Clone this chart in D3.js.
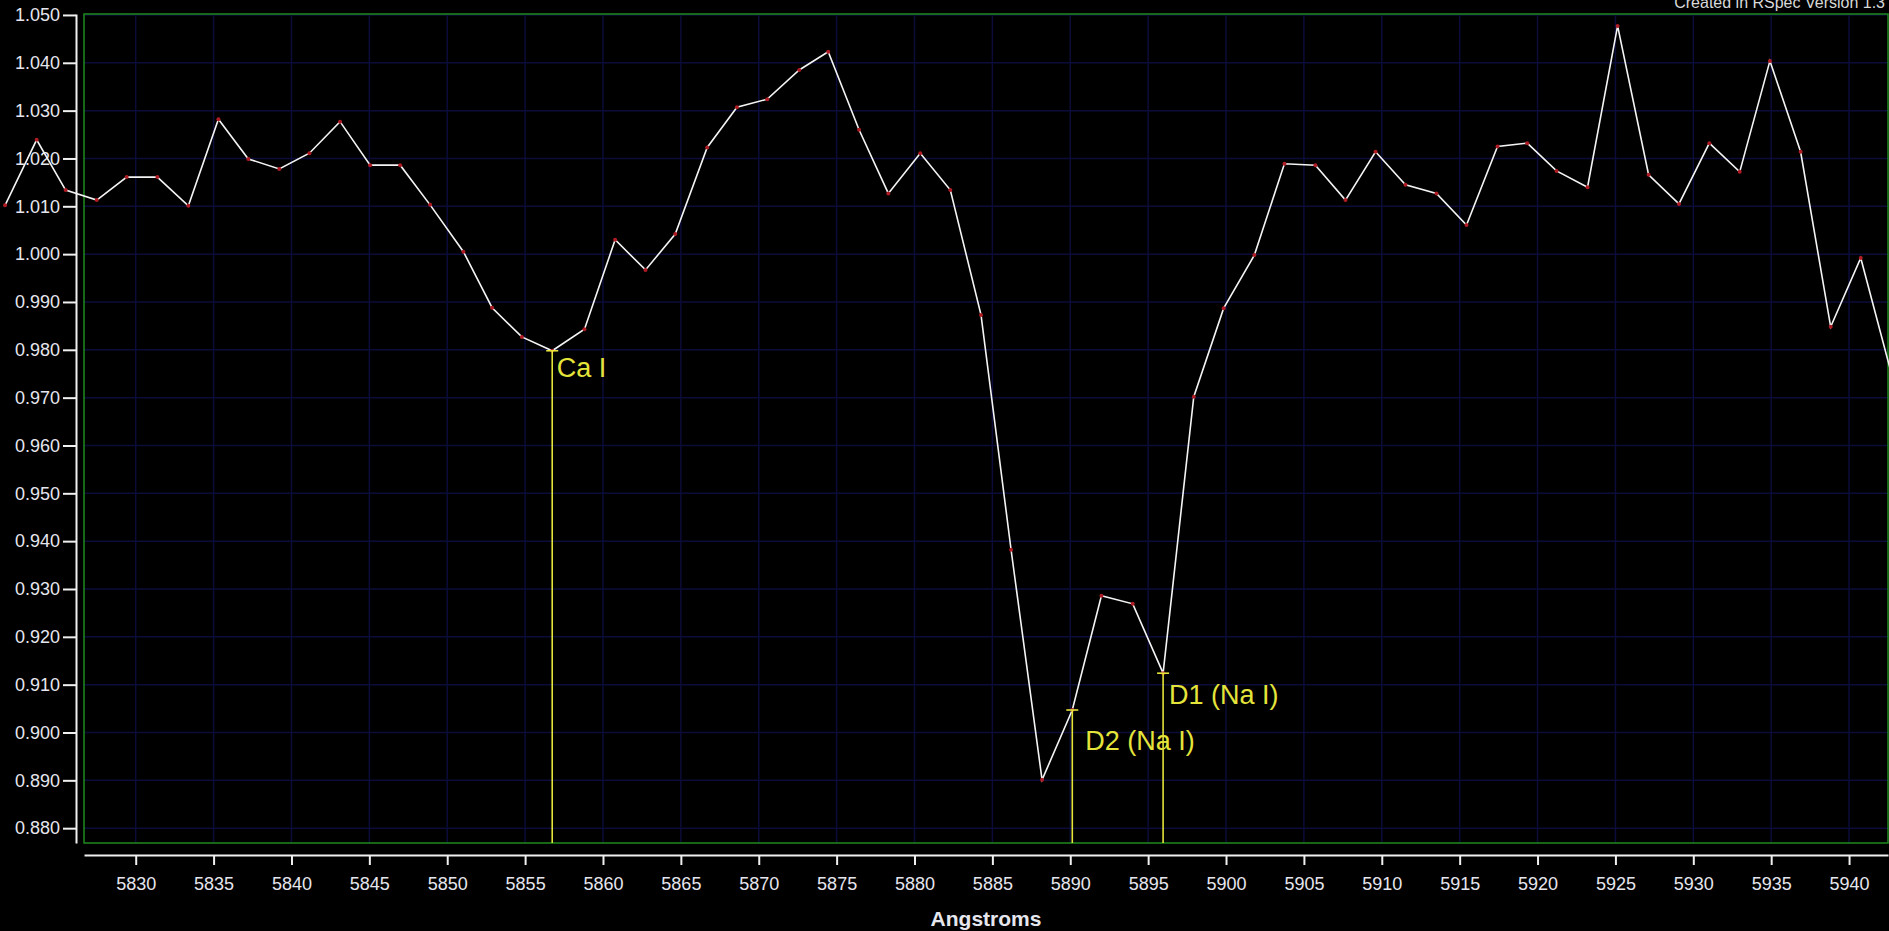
<!DOCTYPE html>
<html>
<head>
<meta charset="utf-8">
<script src="https://cdn.jsdelivr.net/npm/d3@7"></script>
<style>
  html, body { margin: 0; padding: 0; background: #000; }
  svg { display: block; }
  .tick text { font-family: "Liberation Sans", Arial, sans-serif; }
</style>
</head>
<body>
<div id="chart"></div>
<script>
// spectrum samples
let wavelengths = [
  5821.61, 5823.64, 5825.50, 5827.50, 5829.42, 5831.39, 5833.38, 5835.31, 5837.23, 5839.22,
  5841.15, 5843.12, 5845.05, 5846.98, 5848.90, 5851.04, 5852.88, 5854.79, 5856.74, 5858.81,
  5860.78, 5862.73, 5864.64, 5866.69, 5868.60, 5870.55, 5872.60, 5874.46, 5876.44, 5878.32,
  5880.37, 5882.30, 5884.27, 5886.20, 5888.19, 5890.13, 5892.00, 5894.01, 5895.96, 5897.93,
  5899.85, 5901.82, 5903.75, 5905.74, 5907.67, 5909.60, 5911.52, 5913.51, 5915.44, 5917.43,
  5919.34, 5921.22, 5923.21, 5925.14, 5927.13, 5929.08, 5931.03, 5932.98, 5934.92, 5936.89,
  5938.82, 5940.75, 5942.68
];
let intensity = [
  1.0102, 1.0239, 1.0134, 1.0113, 1.0161, 1.0161, 1.0101, 1.0282, 1.0199, 1.0178,
  1.0211, 1.0277, 1.0186, 1.0186, 1.0103, 1.0005, 0.9888, 0.9827, 0.9798, 0.9843,
  1.0030, 0.9967, 1.0042, 1.0223, 1.0307, 1.0324, 1.0385, 1.0423, 1.0260, 1.0127,
  1.0211, 1.0134, 0.9873, 0.9382, 0.8901, 0.9047, 0.9286, 0.9269, 0.9124, 0.9702,
  0.9887, 0.9998, 1.0189, 1.0186, 1.0113, 1.0214, 1.0145, 1.0127, 1.0061, 1.0225,
  1.0232, 1.0174, 1.0140, 1.0477, 1.0166, 1.0105, 1.0232, 1.0172, 1.0404, 1.0214,
  0.9848, 0.9992, 0.9755
];

let lineNames = ["Ca I", "D2 (Na I)", "D1 (Na I)"];
let lineWavelengths = [5856.74, 5890.13, 5895.96];
let lineIntensity = [0.9798, 0.9047, 0.9124];

let xTicks = [5830, 5835, 5840, 5845, 5850, 5855, 5860, 5865, 5870, 5875, 5880, 5885,
  5890, 5895, 5900, 5905, 5910, 5915, 5920, 5925, 5930, 5935, 5940];
let yTicks = [0.88, 0.89, 0.90, 0.91, 0.92, 0.93, 0.94, 0.95, 0.96, 0.97, 0.98, 0.99,
  1.00, 1.01, 1.02, 1.03, 1.04, 1.05];

let xTitle = "Angstroms";
let credit = "Created in RSpec Version 1.3";

// layout
let W = 1889, H = 931;
let plot = { left: 84, right: 1888, top: 14, bottom: 843 };
// label offsets from the marked point (dx, baseline dy)
let labelOffsets = [[4.5, 26], [13, 40], [6, 31]];

let yellow = "#e4e43a";
let gridColor = "#0c0c3a";

let svg = d3.select("#chart")
  .append("svg")
  .attr("width", W)
  .attr("height", H)
  .style("background", "#000");

let x = d3.scaleLinear().domain([5826.68, 5942.5]).range([plot.left, plot.right]);
let y = d3.scaleLinear().domain([0.8769, 1.0502]).range([plot.bottom, plot.top]);

// grid
svg.append("g")
  .selectAll("line")
  .data(xTicks)
  .enter()
  .append("line")
  .attr("x1", d => x(d)).attr("x2", d => x(d))
  .attr("y1", plot.top).attr("y2", plot.bottom)
  .attr("stroke", gridColor)
  .attr("stroke-width", 1.5);

svg.append("g")
  .selectAll("line")
  .data(yTicks)
  .enter()
  .append("line")
  .attr("x1", plot.left).attr("x2", plot.right)
  .attr("y1", d => y(d)).attr("y2", d => y(d))
  .attr("stroke", gridColor)
  .attr("stroke-width", 1.5);

// green frame
svg.append("rect")
  .attr("x", plot.left)
  .attr("y", plot.top)
  .attr("width", plot.right - plot.left)
  .attr("height", plot.bottom - plot.top)
  .attr("fill", "none")
  .attr("stroke", "#1e8a1e")
  .attr("stroke-width", 1.5);

// axes
let yAxis = svg.append("g")
  .attr("transform", "translate(76,0)")
  .call(d3.axisLeft(y).tickValues(yTicks).tickFormat(d3.format(".3f"))
    .tickSize(13).tickSizeOuter(0).tickPadding(3));

let xAxis = svg.append("g")
  .attr("transform", "translate(0,855)")
  .call(d3.axisBottom(x).tickValues(xTicks).tickFormat(d3.format("d"))
    .tickSize(10).tickSizeOuter(0).tickPadding(12));

[yAxis, xAxis].forEach(function(a) {
  a.select(".domain").attr("stroke", "#f0f0f0").attr("stroke-width", 2);
  a.selectAll(".tick line").attr("stroke", "#f0f0f0").attr("stroke-width", 2);
  a.selectAll(".tick text")
    .attr("fill", "#e6e6ee")
    .attr("font-size", 18);
});

svg.append("text")
  .attr("x", (plot.left + plot.right) / 2)
  .attr("y", 926)
  .attr("text-anchor", "middle")
  .attr("font-family", "Liberation Sans, Arial, sans-serif")
  .attr("font-weight", "bold")
  .attr("font-size", 21)
  .attr("fill", "#e6e6ee")
  .text(xTitle);

svg.append("text")
  .attr("x", 1885)
  .attr("y", 8)
  .attr("text-anchor", "end")
  .attr("font-family", "Liberation Sans, Arial, sans-serif")
  .attr("font-size", 16)
  .attr("fill", "#d8d8d8")
  .text(credit);

// spectrum
let pts = wavelengths.map((w, i) => [w, intensity[i]]);

let line = d3.line()
  .x(d => x(d[0]))
  .y(d => y(d[1]));

svg.append("path")
  .datum(pts)
  .attr("d", line)
  .attr("fill", "none")
  .attr("stroke", "#f4f4f4")
  .attr("stroke-width", 1.6);

svg.append("g")
  .selectAll("circle")
  .data(pts)
  .enter()
  .append("circle")
  .attr("cx", d => x(d[0]))
  .attr("cy", d => y(d[1]))
  .attr("r", 2)
  .attr("fill", "#b01c24");

// line identifications
let marks = svg.append("g");
lineNames.forEach(function(name, i) {
  let lx = x(lineWavelengths[i]);
  let ly = y(lineIntensity[i]);
  marks.append("line")
    .attr("x1", lx).attr("x2", lx)
    .attr("y1", ly).attr("y2", plot.bottom)
    .attr("stroke", yellow)
    .attr("stroke-width", 1.6);
  marks.append("line")
    .attr("x1", lx - 6).attr("x2", lx + 6)
    .attr("y1", ly).attr("y2", ly)
    .attr("stroke", yellow)
    .attr("stroke-width", 1.6);
  marks.append("text")
    .attr("x", lx + labelOffsets[i][0])
    .attr("y", ly + labelOffsets[i][1])
    .attr("font-family", "Liberation Sans, Arial, sans-serif")
    .attr("font-size", 27)
    .attr("fill", yellow)
    .text(name);
});
</script>
</body>
</html>
